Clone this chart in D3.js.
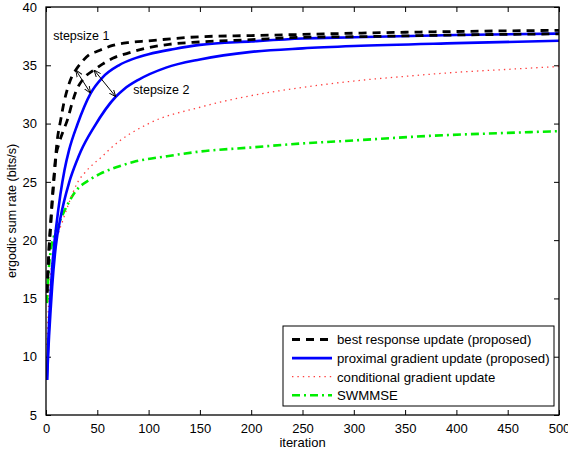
<!DOCTYPE html>
<html>
<head>
<meta charset="utf-8">
<script src="https://cdn.jsdelivr.net/npm/d3@7"></script>
<style>
  body { margin: 0; background: #fff; }
  text { font-family: "Liberation Sans", Arial, sans-serif; }
</style>
</head>
<body>
<div id="chart"></div>
<script>

// values: [iteration, rate]
var br1 = [[1,15.5],[2,17.5],[3,19.3],[4.5,21.3],[6,23.3],[8,25.7],[9.5,27.3],[11,28.6],[14.3,30.3],[17.5,31.8],[21,33.0],[25,34.0],[29,34.6],[35,35.3],[42,35.9],[50,36.2],[65,36.7],[80,36.95],[100,37.1],[150,37.45],[200,37.55],[250,37.65],[300,37.75],[400,37.9],[500,38.0]];
var br2 = [[1,15.5],[2,17.5],[3,19.3],[4.5,21.3],[6,23.3],[8,25.5],[9.5,27.0],[12.7,28.3],[16.5,29.3],[20.8,30.3],[25.6,31.8],[29,32.7],[37,33.9],[46.8,34.6],[55,35.1],[65,35.6],[80,36.05],[97,36.45],[120,36.8],[150,37.0],[200,37.2],[250,37.4],[300,37.45],[400,37.6],[500,37.7]];
var pg1 = [[1,8],[2,10.8],[3,13],[4.5,15.5],[6,17.6],[7.8,19.45],[10,21.2],[14,23.9],[18,26.0],[22.4,27.7],[30.5,29.9],[43.5,32.6],[55,33.95],[71,35.0],[85,35.55],[100,35.95],[125,36.4],[150,36.75],[200,37.05],[250,37.3],[300,37.4],[400,37.6],[500,37.72]];
var pg2 = [[1,8],[2,10],[3,11.8],[4.5,14],[6,16],[9.5,19.45],[14.3,22.0],[22.4,24.9],[30.5,26.9],[33.8,27.6],[46.8,29.7],[68,32.3],[76,32.95],[90,33.75],[117,34.8],[150,35.5],[200,36.15],[250,36.45],[300,36.65],[400,36.9],[500,37.1]];
var cg = [[1,11],[2,13.5],[3,15.3],[5,17.5],[8,19.3],[11,20.3],[16,21.6],[22.4,23.2],[30.5,24.9],[40,26.0],[55,27.2],[62,27.8],[100,30.0],[150,31.4],[200,32.4],[250,33.1],[300,33.65],[350,34.05],[400,34.4],[450,34.65],[500,34.9]];
var swmmse = [[1,14.6],[2,16.5],[3,17.8],[5,19.3],[8,20.4],[11,21.1],[19,22.7],[29,24.2],[43,25.2],[53,25.7],[70,26.3],[85,26.7],[118,27.2],[150,27.6],[200,27.95],[250,28.3],[300,28.55],[375,28.95],[450,29.2],[500,29.35]];

var xTicks = [0,50,100,150,200,250,300,350,400,450,500];
var yTicks = [5,10,15,20,25,30,35,40];

var legendNames = ['best response update (proposed)', 'proximal gradient update (proposed)', 'conditional gradient update', 'SWMMSE'];

// arrows between the curves, data coords
var arrows = [[[29,34.6],[43.5,32.6]], [[46.8,34.6],[68,32.3]]];
var notes = [['stepsize 1', 7, 37.2], ['stepsize 2', 85, 32.5]];


var W = 568, H = 455;
var m = {left: 46, right: 9, top: 7, bottom: 40};

var svg = d3.select('#chart').append('svg')
  .attr('width', W).attr('height', H);

var x = d3.scaleLinear().domain([0, 500]).range([m.left, W - m.right]);
var y = d3.scaleLinear().domain([5, 40]).range([H - m.bottom, m.top]);

var defs = svg.append('defs');
defs.append('clipPath').attr('id', 'clip').append('rect')
  .attr('x', m.left).attr('y', m.top)
  .attr('width', W - m.left - m.right).attr('height', H - m.top - m.bottom);
defs.append('marker').attr('id', 'arr')
  .attr('viewBox', '0 0 10 10').attr('refX', 10).attr('refY', 5)
  .attr('markerWidth', 7).attr('markerHeight', 7).attr('orient', 'auto-start-reverse')
  .append('path').attr('d', 'M0,1 L10,5 L0,9').attr('fill', 'none').attr('stroke', '#000').attr('stroke-width', 1.3);

// ticks, all inside the box
var tl = 5;
var axes = svg.append('g');
axes.append('g').attr('transform', 'translate(0,' + (H - m.bottom) + ')')
  .call(d3.axisBottom(x).tickValues(xTicks).tickSizeInner(-tl).tickSizeOuter(0).tickPadding(9));
axes.append('g').attr('transform', 'translate(0,' + m.top + ')')
  .call(d3.axisTop(x).tickValues(xTicks).tickSizeInner(-tl).tickSizeOuter(0).tickFormat(''));
axes.append('g').attr('transform', 'translate(' + m.left + ',0)')
  .call(d3.axisLeft(y).tickValues(yTicks).tickSizeInner(-tl).tickSizeOuter(0).tickPadding(9));
axes.append('g').attr('transform', 'translate(' + (W - m.right) + ',0)')
  .call(d3.axisRight(y).tickValues(yTicks).tickSizeInner(-tl).tickSizeOuter(0).tickFormat(''));
axes.selectAll('.domain').remove();
axes.selectAll('text').style('font-size', '13px').style('fill', '#000').style('font-family', '"Liberation Sans", Arial, sans-serif');
axes.selectAll('line').attr('stroke', '#000');

var line = d3.line()
  .x(function(d){ return x(d[0]); })
  .y(function(d){ return y(d[1]); })
  .curve(d3.curveMonotoneX);

var styles = [
  {data: swmmse, color: '#00ee00', width: 2.6, dash: '8,4,2,4'},
  {data: cg, color: '#ff4040', width: 1.3, dash: '1.4,4'},
  {data: pg2, color: '#0000ff', width: 2.6, dash: null},
  {data: pg1, color: '#0000ff', width: 2.6, dash: null},
  {data: br2, color: '#000', width: 2.8, dash: '8,6'},
  {data: br1, color: '#000', width: 2.8, dash: '8,6'}
];

var plot = svg.append('g').attr('clip-path', 'url(#clip)');
styles.forEach(function(s){
  plot.append('path')
    .attr('d', line(s.data))
    .attr('fill', 'none')
    .attr('stroke', s.color)
    .attr('stroke-width', s.width)
    .attr('stroke-dasharray', s.dash);
});

// box
svg.append('rect')
  .attr('x', m.left).attr('y', m.top)
  .attr('width', W - m.left - m.right).attr('height', H - m.top - m.bottom)
  .attr('fill', 'none').attr('stroke', '#000').attr('stroke-width', 1.3);

// annotations
arrows.forEach(function(a){
  svg.append('line')
    .attr('x1', x(a[0][0])).attr('y1', y(a[0][1]))
    .attr('x2', x(a[1][0])).attr('y2', y(a[1][1]))
    .attr('stroke', '#000').attr('stroke-width', 1)
    .attr('marker-start', 'url(#arr)').attr('marker-end', 'url(#arr)');
});
notes.forEach(function(n){
  svg.append('text').attr('x', x(n[1])).attr('y', y(n[2]))
    .text(n[0]).style('font-size', '12.5px');
});

// legend
var lg = svg.append('g');
var lx = 283, ly = 326, lw = 271, lh = 80;
lg.append('rect').attr('x', lx).attr('y', ly).attr('width', lw).attr('height', lh)
  .attr('fill', '#fff').attr('stroke', '#000').attr('stroke-width', 1);
var legStyles = [styles[5], styles[3], styles[1], styles[0]];
legendNames.forEach(function(name, i){
  var yy = ly + 13.5 + i * 18.6;
  var s = legStyles[i];
  lg.append('line').attr('x1', lx + 9).attr('x2', lx + 49).attr('y1', yy).attr('y2', yy)
    .attr('stroke', s.color).attr('stroke-width', s.width).attr('stroke-dasharray', s.dash);
  lg.append('text').attr('x', lx + 54).attr('y', yy + 4.8).text(name).style('font-size', '13.2px');
});

// axis labels
svg.append('text').attr('x', (m.left + W - m.right) / 2).attr('y', H - 8)
  .attr('text-anchor', 'middle').text('iteration').style('font-size', '13px');
svg.append('text')
  .attr('transform', 'translate(16,' + ((m.top + H - m.bottom) / 2) + ') rotate(-90)')
  .attr('text-anchor', 'middle').text('ergodic sum rate (bits/s)').style('font-size', '12.5px');

</script>
</body>
</html>
